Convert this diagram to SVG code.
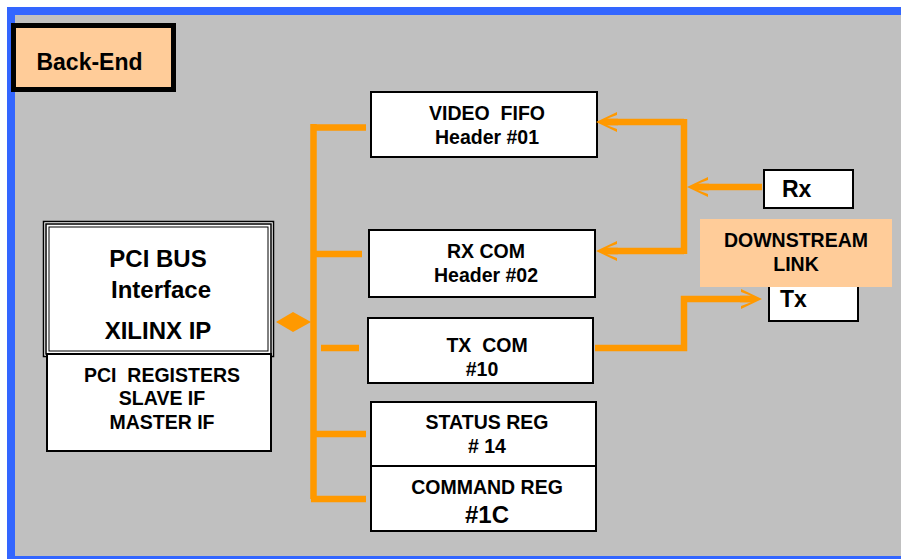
<svg xmlns="http://www.w3.org/2000/svg" width="901" height="559" viewBox="0 0 901 559">
<defs>
<style>
.box{fill:#fff;stroke:#000;stroke-width:2}
.t{font-family:"Liberation Sans",Arial,sans-serif;font-weight:bold;fill:#000;text-anchor:middle}
.s18{font-size:19.5px}
.s22{font-size:23px}
.s24{font-size:24px}
.c{fill:none;stroke:#FF9900;stroke-width:6.5}
</style>
<marker id="ah" markerUnits="userSpaceOnUse" markerWidth="30" markerHeight="26" viewBox="-16 -13 30 26" refX="0" refY="0" orient="auto">
<path d="M10,0 L-11,-10 L-11,-7 L-1,-3.25 L-12,-3.25 L-12,3.25 L-1,3.25 L-11,7 L-11,10 Z" fill="#FF9900"/>
</marker>
</defs>
<rect x="0" y="0" width="901" height="559" fill="#fff"/>
<rect x="7" y="7" width="894" height="552" fill="#3366FF"/>
<rect x="15" y="15" width="886" height="541" fill="#C0C0C0"/>

<g id="backend">
<rect x="13.5" y="25.5" width="160" height="64" fill="#FFCC99" stroke="#000" stroke-width="5"/>
<text class="t s22" x="89.5" y="70">Back-End</text>
</g>

<g id="pci-bus">
<rect x="43.5" y="221.5" width="230" height="135" fill="#fff" stroke="#000" stroke-width="1.5"/>
<rect x="46" y="224" width="225" height="130" fill="none" stroke="#000" stroke-width="1.5"/>
<rect x="49" y="227" width="219" height="124" fill="none" stroke="#000" stroke-width="1"/>
<text class="t s24" x="158" y="267">PCI BUS</text>
<text class="t s24" x="161" y="298">Interface</text>
<text class="t s24" x="158" y="339">XILINX IP</text>
</g>

<g id="pci-registers">
<rect class="box" x="47" y="354" width="224" height="97"/>
<text class="t s18" x="162" y="382" xml:space="preserve">PCI  REGISTERS</text>
<text class="t s18" x="162" y="405">SLAVE IF</text>
<text class="t s18" x="162" y="429">MASTER IF</text>
</g>

<g id="video-fifo">
<rect class="box" x="371" y="92" width="226" height="65"/>
<text class="t s18" x="487" y="120" xml:space="preserve">VIDEO  FIFO</text>
<text class="t s18" x="487" y="144">Header #01</text>
</g>

<g id="rx-com">
<rect class="box" x="369" y="230" width="226" height="67"/>
<text class="t s18" x="486" y="258">RX COM</text>
<text class="t s18" x="486" y="282">Header #02</text>
</g>

<g id="tx-com">
<rect class="box" x="368" y="318" width="225" height="65"/>
<text class="t s18" x="487" y="352" xml:space="preserve">TX  COM</text>
<text class="t s18" x="482" y="376">#10</text>
</g>

<g id="status-reg">
<rect class="box" x="371" y="402" width="225" height="64"/>
<text class="t s18" x="487" y="429">STATUS REG</text>
<text class="t s18" x="487" y="453"># 14</text>
</g>

<g id="command-reg">
<rect class="box" x="371" y="466" width="225" height="65"/>
<text class="t s18" x="487" y="494">COMMAND REG</text>
<text class="t s24" x="487" y="523">#1C</text>
</g>

<g id="rx">
<rect class="box" x="764" y="170" width="89" height="38"/>
<text class="t s22" x="782" y="197" style="text-anchor:start">Rx</text>
</g>

<g id="tx">
<rect class="box" x="769" y="280" width="89" height="41"/>
<text class="t s22" x="780" y="307" style="text-anchor:start">Tx</text>
</g>

<g id="downstream-link">
<rect x="700" y="219" width="192" height="68" fill="#FFCC99"/>
<text class="t s18" x="796" y="247">DOWNSTREAM</text>
<text class="t s18" x="796" y="271">LINK</text>
</g>

<g id="connectors">
<polygon points="276,322 293,312 311,322 293,332" fill="#FF9900"/>
<path class="c" d="M313.5,124 V499"/>
<path class="c" d="M311,127.5 H366"/>
<path class="c" d="M311,254 H362"/>
<path class="c" d="M321,348 H359"/>
<path class="c" d="M311,434 H366"/>
<path class="c" d="M311,499 H366"/>
<path class="c" d="M684,122 H606" marker-end="url(#ah)"/>
<path class="c" d="M684,119 V254"/>
<path class="c" d="M684,251 H606" marker-end="url(#ah)"/>
<path class="c" d="M762,187 H697" marker-end="url(#ah)"/>
<path class="c" d="M595,348 H684 V299 H752" marker-end="url(#ah)"/>
</g>
</svg>
